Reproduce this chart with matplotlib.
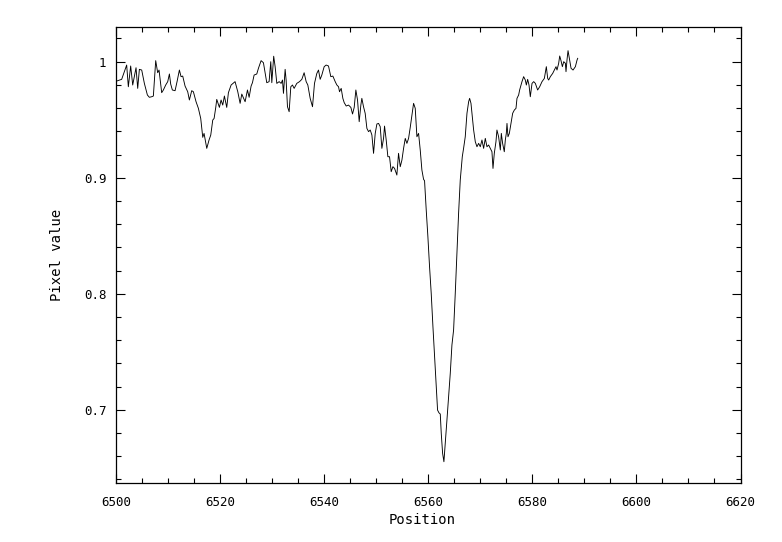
import numpy as np
import matplotlib
matplotlib.use("Agg")
import matplotlib.pyplot as plt
from matplotlib.ticker import MultipleLocator, FuncFormatter

# Spectrum data (position offset from 6500, pixel value)
position_offset = [
    0.13, 1.09, 2.05, 2.37, 2.82, 3.21, 3.85, 4.17, 4.49, 4.94, 5.45, 6.03, 6.41, 6.86, 7.18,
    7.63, 8.01, 8.27, 8.78, 9.10, 9.55, 9.94, 10.26, 10.51, 10.83, 11.35, 11.73, 12.18, 12.50,
    12.82, 13.27, 13.78, 14.10, 14.55, 14.87, 15.38, 15.83, 16.28, 16.67, 16.92, 17.44, 17.88,
    18.21, 18.59, 18.85, 19.17, 19.36, 19.87, 20.19, 20.51, 20.83, 21.28, 21.60, 22.12, 22.88,
    23.40, 23.85, 24.17, 24.81, 25.26, 25.58, 25.96, 26.22, 26.54, 27.05, 27.37, 27.88, 28.33,
    28.97, 29.42, 29.74, 29.94, 30.30, 30.58, 30.90, 31.35, 31.73, 31.99, 32.18, 32.50, 32.69,
    32.95, 33.27, 33.59, 33.91, 34.23, 34.74, 35.26, 35.71, 36.15, 36.54, 36.86, 37.31, 37.76,
    38.14, 38.59, 38.91, 39.23, 39.55, 40.00, 40.38, 40.83, 41.28, 41.67, 42.12, 42.44, 42.76,
    42.95, 43.27, 43.59, 43.85, 44.23, 44.68, 45.13, 45.45, 45.77, 46.09, 46.41, 46.73, 47.05,
    47.24, 47.56, 47.88, 48.21, 48.53, 48.85, 49.17, 49.49, 49.81, 50.13, 50.45, 50.77, 51.09,
    51.41, 51.60, 51.92, 52.24, 52.56, 52.88, 53.21, 53.53, 53.97, 54.29, 54.62, 54.94, 55.26,
    55.58, 55.90, 56.22, 56.54, 56.86, 57.18, 57.50, 57.82, 58.14, 58.46, 58.78, 59.10, 59.29,
    59.61, 59.93, 60.25, 60.57, 60.90, 61.22, 61.54, 61.79, 62.05, 62.31, 62.50, 62.76, 63.01,
    63.27, 63.59, 63.91, 64.23, 64.55, 64.87, 65.19, 65.51, 65.83, 66.15, 66.54, 66.79, 67.11,
    67.44, 67.76, 67.95, 68.21, 68.40, 68.72, 69.04, 69.36, 69.68, 70.00, 70.32, 70.64, 70.96,
    71.28, 71.60, 71.92, 72.24, 72.44, 72.69, 73.01, 73.20, 73.52, 73.85, 74.04, 74.29, 74.61,
    74.81, 75.00, 75.13, 75.32, 75.58, 75.90, 76.22, 76.54, 76.86, 77.05, 77.37, 77.56, 77.82,
    78.01, 78.33, 78.65, 78.85, 79.10, 79.36, 79.61, 79.94, 80.26, 80.58, 81.02, 81.41, 81.86,
    82.31, 82.69, 82.95, 83.14, 83.46, 83.91, 84.29, 84.55, 84.74, 85.06, 85.26, 85.51, 85.77,
    86.03, 86.35, 86.47, 86.67, 86.86, 87.12, 87.44, 87.82, 88.27, 88.59, 88.72,
]
pixel_value = [
    0.9833, 0.9848, 0.9971, 0.9784, 0.9963, 0.9799, 0.9948, 0.9770, 0.9934, 0.9928, 0.9813, 0.9713, 0.9693, 0.9698, 0.9704,
    1.0009, 0.9905, 0.9928, 0.9733, 0.9756, 0.9799, 0.9828, 0.9894, 0.9807, 0.9756, 0.9750, 0.9828, 0.9928, 0.9871,
    0.9876, 0.9790, 0.9741, 0.9670, 0.9750, 0.9741, 0.9655, 0.9598, 0.9511, 0.9348, 0.9382, 0.9253, 0.9325,
    0.9368, 0.9497, 0.9511, 0.9606, 0.9675, 0.9606, 0.9670, 0.9626, 0.9704, 0.9606, 0.9733, 0.9799, 0.9828,
    0.9741, 0.9641, 0.9721, 0.9655, 0.9756, 0.9693, 0.9790, 0.9819, 0.9885, 0.9894, 0.9943, 1.0009, 0.9991,
    0.9819, 0.9828, 1.0000, 0.9819, 1.0047, 0.9957, 0.9813, 0.9828, 0.9813, 0.9842, 0.9727, 0.9934, 0.9842,
    0.9612, 0.9569, 0.9784, 0.9799, 0.9770, 0.9813, 0.9828, 0.9848, 0.9905, 0.9828, 0.9799, 0.9684, 0.9612,
    0.9813, 0.9899, 0.9928, 0.9848, 0.9885, 0.9957, 0.9971, 0.9963, 0.9871, 0.9876, 0.9828, 0.9799, 0.9784,
    0.9741, 0.9770, 0.9684, 0.9647, 0.9618, 0.9626, 0.9606, 0.9549, 0.9606, 0.9756, 0.9670, 0.9483, 0.9626,
    0.9684, 0.9612, 0.9555, 0.9425, 0.9397, 0.9411, 0.9368, 0.9210, 0.9382, 0.9463, 0.9468, 0.9440, 0.9253,
    0.9339, 0.9445, 0.9325, 0.9181, 0.9181, 0.9052, 0.9095, 0.9080, 0.9023, 0.9210, 0.9095, 0.9152, 0.9253,
    0.9339, 0.9296, 0.9339, 0.9434, 0.9540, 0.9641, 0.9598, 0.9353, 0.9382, 0.9239, 0.9066, 0.8986, 0.8974,
    0.8722, 0.8492, 0.8233, 0.8003, 0.7716, 0.7457, 0.7198, 0.6997, 0.6974, 0.6963, 0.6796, 0.6624, 0.6552,
    0.6710, 0.6911, 0.7112, 0.7313, 0.7558, 0.7687, 0.8003, 0.8348, 0.8693, 0.8980, 0.9181, 0.9253, 0.9353,
    0.9555, 0.9655, 0.9684, 0.9641, 0.9555, 0.9411, 0.9310, 0.9267, 0.9296, 0.9267, 0.9325, 0.9253, 0.9339,
    0.9267, 0.9282, 0.9253, 0.9224, 0.9080, 0.9210, 0.9310, 0.9411, 0.9353, 0.9239, 0.9382, 0.9296, 0.9224,
    0.9325, 0.9382, 0.9468, 0.9353, 0.9382, 0.9468, 0.9555, 0.9583, 0.9598, 0.9684, 0.9713, 0.9756, 0.9799,
    0.9828, 0.9871, 0.9842, 0.9799, 0.9848, 0.9799, 0.9698, 0.9813, 0.9828, 0.9813, 0.9756, 0.9784, 0.9828,
    0.9856, 0.9957, 0.9856, 0.9842, 0.9871, 0.9899, 0.9934, 0.9957, 0.9928, 0.9986, 1.0049, 1.0009, 0.9957,
    1.0000, 0.9986, 0.9914, 1.0020, 1.0095, 1.0029, 0.9943, 0.9928, 0.9957, 1.0014, 1.0029,
]
position_start = 6500.0
x_limits = (6500, 6620)
y_limits = (0.6366, 1.0299)
x_label = "Position"
y_label = "Pixel value"

position = position_start + np.array(position_offset)
values = np.array(pixel_value)

plt.rcParams['font.family'] = ['DejaVu Sans Mono']

W, H = 782, 542
fig = plt.figure(figsize=(W / 100, H / 100), dpi=100)
left, right, top, bottom = 116, 740.5, 27, 483.3
ax = fig.add_axes([left / W, 1 - bottom / H, (right - left) / W, (bottom - top) / H])

ax.plot(position, values, color='black', lw=0.65)

ax.set_xlim(*x_limits)
ax.set_ylim(*y_limits)
ax.xaxis.set_major_locator(MultipleLocator(20))
ax.xaxis.set_minor_locator(MultipleLocator(5))
ax.yaxis.set_major_locator(MultipleLocator(0.1))
ax.yaxis.set_minor_locator(MultipleLocator(0.02))
ax.yaxis.set_major_formatter(FuncFormatter(lambda v, p: f"{v:g}"))
ax.xaxis.set_major_formatter(FuncFormatter(lambda v, p: f"{v:.0f}"))

ax.tick_params(which='both', direction='in', top=True, right=True, colors='black',
               labelsize=9, width=0.8)
ax.tick_params(which='major', length=6.5)
ax.tick_params(which='minor', length=3.5)
ax.tick_params(axis='x', which='major', pad=9.5)
ax.tick_params(axis='y', which='major', pad=7)
for s in ax.spines.values():
    s.set_linewidth(0.9)
    s.set_color('black')

ax.set_xlabel(x_label, fontsize=10)
ax.set_ylabel(y_label, fontsize=10)
ax.xaxis.set_label_coords(0.5 - 6 / (right - left), -(513 - bottom) / (bottom - top))
ax.yaxis.set_label_coords(-(116 - 64) / (right - left), 0.5)

fig.savefig("out.png", dpi=100, facecolor='white')
